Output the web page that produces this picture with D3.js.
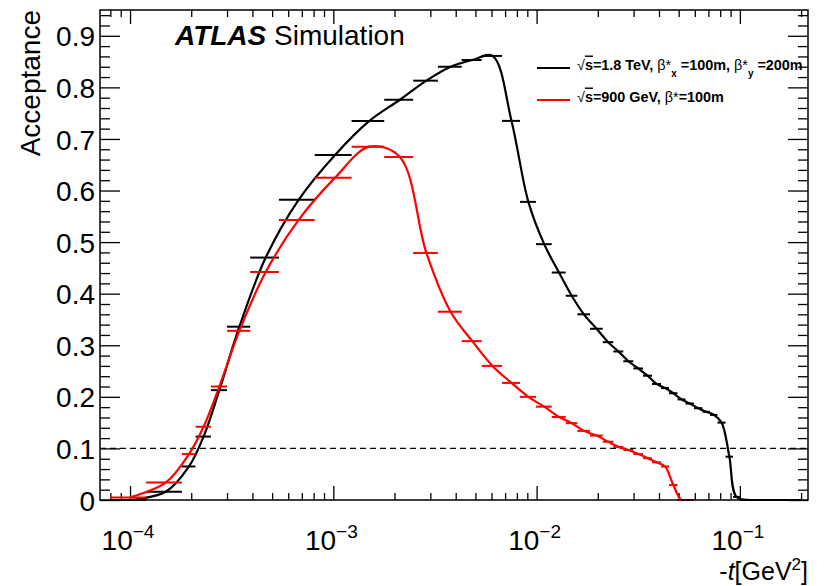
<!DOCTYPE html>
<html>
<head>
<meta charset="utf-8">
<script src="https://cdn.jsdelivr.net/npm/d3@7"></script>
<style>
body{margin:0;background:#fff}
svg text{font-family:"Liberation Sans",Arial,Helvetica,sans-serif;fill:#000}
</style>
</head>
<body>
<svg id="chart" width="824" height="586"></svg>
<script>
// bin edges in -t [GeV^2], both samples use the same binning
const binEdges = [0.8e-4, 1.2e-4, 1.8e-4, 2.1e-4, 2.5e-4, 3.0e-4, 3.9e-4, 5.4e-4, 8.1e-4,
                  1.23e-3, 1.78e-3, 2.47e-3, 3.27e-3, 4.28e-3, 5.37e-3, 6.76e-3, 8.29e-3, 9.93e-3,
                  1.187e-2, 1.39e-2, 1.586e-2, 1.831e-2, 2.115e-2, 2.384e-2, 2.67e-2, 2.99e-2,
                  3.338e-2, 3.695e-2, 4.092e-2, 4.48e-2, 4.93e-2, 5.40e-2, 5.946e-2, 6.546e-2,
                  7.13e-2, 7.76e-2, 8.50e-2, 9.25e-2, 0.1, 0.125, 0.15, 0.175, 0.2]

// acceptance, sqrt(s)=1.8 TeV
const acc1800 = [0.0, 0.016, 0.065, 0.123, 0.213, 0.336, 0.470, 0.582, 0.669, 0.735,
                 0.776, 0.813, 0.840, 0.853, 0.861, 0.735, 0.578, 0.496, 0.441, 0.396,
                 0.360, 0.332, 0.306, 0.288, 0.269, 0.255, 0.241, 0.225, 0.217, 0.207,
                 0.195, 0.187, 0.178, 0.171, 0.165, 0.150, 0.084, 0.006, 0, 0, 0, 0]

// acceptance, sqrt(s)=900 GeV (first 32 bins)
const acc900 = [0.005, 0.034, 0.089, 0.142, 0.220, 0.328, 0.442, 0.543, 0.625, 0.685,
                0.665, 0.479, 0.365, 0.308, 0.260, 0.227, 0.200, 0.181, 0.161, 0.149,
                0.134, 0.125, 0.113, 0.103, 0.097, 0.089, 0.081, 0.073, 0.065, 0.029, 0, 0]

const yTicks = [0, 0.1, 0.2, 0.3, 0.4, 0.5, 0.6, 0.7, 0.8, 0.9]
const xDecades = [1e-4, 1e-3, 1e-2, 1e-1]
const xDecadeExp = ["\u22124", "\u22123", "\u22122", "\u22121"]

function make_bins(values){
    return values.map(function(v,i){
        let lo = binEdges[i], hi = binEdges[i+1]
        return {lo: lo, hi: hi, c: (lo+hi)/2, v: v}
    })
}

function acceptance_plot(ax){
    let left = 100, right = 808, top = 10, bottom = 500
    let xScale = d3.scaleLog().domain([7.116e-5, 0.2163]).range([left, right])
    let yScale = d3.scaleLinear().domain([0, 0.95]).range([bottom, top])

    let svg = d3.select(`#${ax}`)

    svg.append("clipPath").attr("id","plotclip")
        .append("rect").attr("x",left).attr("y",top)
        .attr("width",right-left).attr("height",bottom-top)

    // minor ticks of the log axis: 2..9 in each decade
    let xMinor = []
    for (let e = -5; e <= 0; e++)
        for (let k = 2; k <= 9; k++){
            let v = k*Math.pow(10,e)
            if (v > 7.116e-5 && v < 0.2163) xMinor.push(v)
        }
    let yMinor = d3.range(0, 0.951, 0.02).filter(function(d){
        return Math.abs(d*10 - Math.round(d*10)) > 1e-6})

    function tick_axis(gen, pos, values, size){
        let g = svg.append("g").attr("transform", pos)
            .call(gen.tickValues(values).tickSize(size).tickFormat(""))
        g.select(".domain").remove()
        g.selectAll(".tick line").attr("stroke","#000").attr("stroke-width",1.3)
        return g
    }
    tick_axis(d3.axisBottom(xScale), `translate(0,${bottom})`, xDecades, -14)
    tick_axis(d3.axisBottom(xScale), `translate(0,${bottom})`, xMinor, -7)
    tick_axis(d3.axisTop(xScale), `translate(0,${top})`, xDecades, -14)
    tick_axis(d3.axisTop(xScale), `translate(0,${top})`, xMinor, -7)
    tick_axis(d3.axisLeft(yScale), `translate(${left},0)`, yMinor, -10)
    tick_axis(d3.axisRight(yScale), `translate(${right},0)`, yTicks, -20)
    tick_axis(d3.axisRight(yScale), `translate(${right},0)`, yMinor, -10)

    // left axis with labels
    let yAx = svg.append("g").attr("transform", `translate(${left},0)`)
        .call(d3.axisLeft(yScale).tickValues(yTicks).tickSize(-20).tickPadding(5)
              .tickFormat(function(d){return d === 0 ? "0" : d.toFixed(1)}))
    yAx.select(".domain").remove()
    yAx.selectAll(".tick line").attr("stroke","#000").attr("stroke-width",1.3)
    yAx.selectAll(".tick text").attr("font-size",28).attr("font-family",null)
        .attr("fill","#000").attr("dy","0.36em")

    // x labels 10^n
    let xl = svg.append("g").selectAll("text").data(xDecades).enter()
        .append("text")
        .attr("x", function(d){return xScale(d) - 2})
        .attr("y", 550)
        .attr("text-anchor","middle")
        .attr("font-size",28)
    xl.append("tspan").text("10")
    xl.append("tspan").attr("dy",-12).attr("font-size",19).text(function(d,i){return xDecadeExp[i]})

    // dashed 10% line
    svg.append("line")
        .attr("x1",left).attr("x2",right)
        .attr("y1",yScale(0.1)).attr("y2",yScale(0.1))
        .attr("stroke","#000").attr("stroke-width",1.3).attr("stroke-dasharray","6,4")

    let line = d3.line()
        .x(function(d){return xScale(d.c)})
        .y(function(d){return yScale(d.v)})
        .curve(d3.curveCatmullRom.alpha(0.5))

    let series = [{bins: make_bins(acc1800), color: "#000"},
                  {bins: make_bins(acc900), color: "#ff0000"}]

    series.forEach(function(s){
        // horizontal bars = bin widths
        svg.append("g").selectAll("line").data(s.bins).enter()
            .append("line")
            .attr("x1",function(d){return xScale(d.lo)})
            .attr("x2",function(d){return xScale(d.hi)})
            .attr("y1",function(d){return yScale(d.v)})
            .attr("y2",function(d){return yScale(d.v)})
            .attr("stroke",s.color).attr("stroke-width",2)
        svg.append("path")
            .datum(s.bins)
            .attr("clip-path","url(#plotclip)")
            .attr("d",line)
            .attr("fill","none")
            .attr("stroke",s.color).attr("stroke-width",2.2)
    })

    // frame
    svg.append("rect")
        .attr("x",left).attr("y",top)
        .attr("width",right-left).attr("height",bottom-top)
        .attr("fill","none").attr("stroke","#000").attr("stroke-width",1.5)

    // axis titles
    svg.append("text")
        .attr("transform", `translate(40,${top}) rotate(-90)`)
        .attr("text-anchor","end")
        .attr("font-size",28)
        .text("Acceptance")

    let xt = svg.append("text")
        .attr("x",right).attr("y",580)
        .attr("text-anchor","end")
        .attr("font-size",25)
    xt.append("tspan").text("-")
    xt.append("tspan").attr("font-style","italic").text("t")
    xt.append("tspan").text("[GeV")
    xt.append("tspan").attr("dy",-10).attr("font-size",17).text("2")
    xt.append("tspan").attr("dy",10).text("]")

    // ATLAS label
    let atl = svg.append("text").attr("x",175).attr("y",45).attr("font-size",28)
    atl.append("tspan").attr("font-weight","bold").attr("font-style","italic").text("ATLAS")
    atl.append("tspan").text(" Simulation")

    // legend
    let legend = [{y: 68, color: "#000", e: "1.8 TeV", b: [["x","100m"],["y","200m"]]},
                  {y: 100, color: "#ff0000", e: "900 GeV", b: [["","100m"]]}]
    legend.forEach(function(l){
        svg.append("line").attr("x1",537).attr("x2",570).attr("y1",l.y).attr("y2",l.y)
            .attr("stroke",l.color).attr("stroke-width",2.2)
        let t = svg.append("text").attr("x",577).attr("y",l.y+1.5)
            .attr("font-size",14.4).attr("font-weight","bold")
        t.append("tspan").attr("font-weight","normal").text("\u221A")
        t.append("tspan").style("text-decoration","overline").text("s")
        t.append("tspan").text("=" + l.e + ", ")
        l.b.forEach(function(b,i){
            t.append("tspan").attr("font-weight","normal").text("\u03B2*")
            if (b[0]){
                t.append("tspan").attr("font-size",10).attr("dy",7).text(b[0])
                t.append("tspan").attr("dy",-7).text(" =" + b[1] + (i < l.b.length-1 ? ", " : ""))
            } else {
                t.append("tspan").text("=" + b[1])
            }
        })
    })
}

acceptance_plot("chart")
</script>
</body>
</html>
